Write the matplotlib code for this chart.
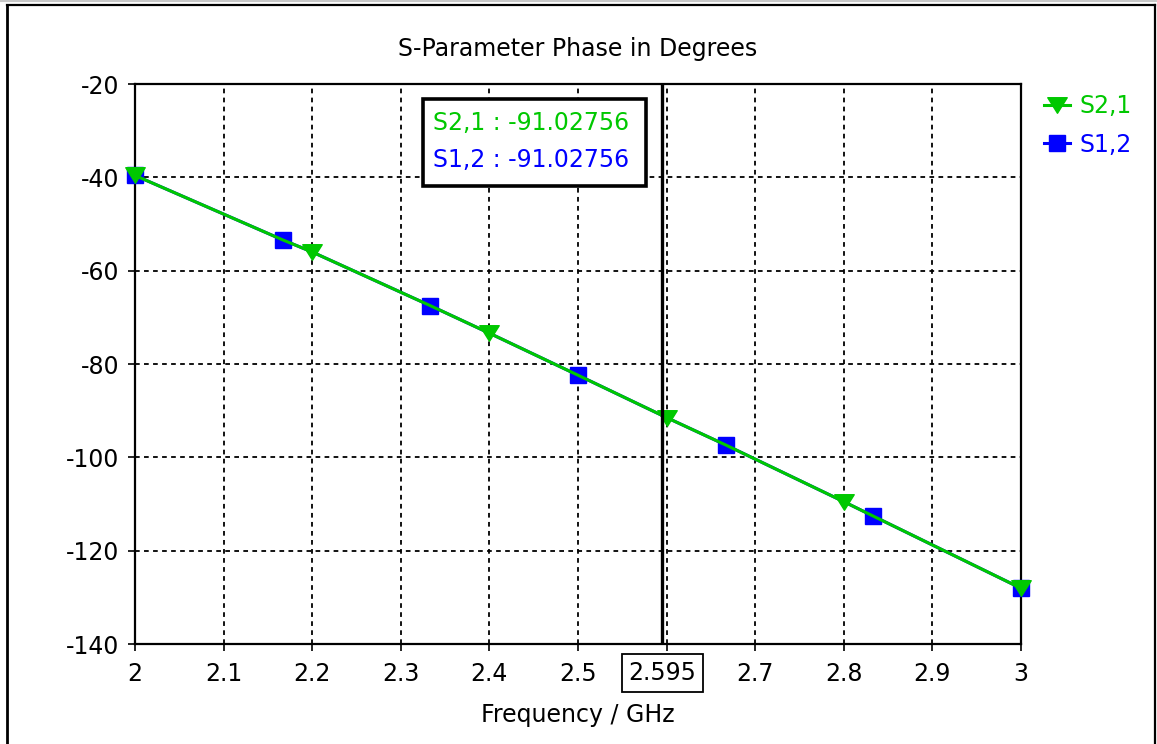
import matplotlib
matplotlib.use("Agg")
import matplotlib.pyplot as plt
from matplotlib.lines import Line2D
from matplotlib.patches import Rectangle
from matplotlib.path import Path
from matplotlib.transforms import blended_transform_factory

plt.rcParams['font.family'] = ['DejaVu Sans']
plt.rcParams['axes.unicode_minus'] = False

# ---- chart data -----------------------------------------------------------
title = "S-Parameter Phase in Degrees"
x_label = "Frequency / GHz"

s21_label = "S2,1"
freq_s21 = [2.0, 2.2, 2.4, 2.6, 2.8, 3.0]
phase_s21 = [-39.6, -56.0, -73.4, -91.48, -109.5, -128.05]

s12_label = "S1,2"
freq_s12 = [2.0, 2.1667, 2.3333, 2.5, 2.6667, 2.8333, 3.0]
phase_s12 = [-39.6, -53.4, -67.5, -82.4, -97.35, -112.6, -128.05]

cursor_freq = 2.595
cursor_phase = -91.02756

x_ticks = [2.0, 2.1, 2.2, 2.3, 2.4, 2.5, 2.6, 2.7, 2.8, 2.9, 3.0]
x_tick_labels = ["2", "2.1", "2.2", "2.3", "2.4", "2.5", "", "2.7", "2.8", "2.9", "3"]
y_ticks = [-140, -120, -100, -80, -60, -40, -20]
y_tick_labels = ["-140", "-120", "-100", "-80", "-60", "-40", "-20"]

GREEN = "#00c800"
BLUE = "#0000ff"
FS = 17

W, H = 1157, 744
fig = plt.figure(figsize=(W / 100, H / 100), dpi=100)
fig.patch.set_facecolor("white")
ax = fig.add_axes([135 / W, 1 - 644 / H, 886 / W, 560 / H])

# both traces describe the same transmission phase; the curve goes through all samples
curve = sorted(set(zip(freq_s21, phase_s21)) | set(zip(freq_s12, phase_s12))
               | {(cursor_freq, cursor_phase)})
curve_f = [p[0] for p in curve]
curve_p = [p[1] for p in curve]

# wide, flat downward triangle marker
tri = Path([(-1.0, 0.8), (1.0, 0.8), (0.0, -0.8), (-1.0, 0.8)],
           [Path.MOVETO, Path.LINETO, Path.LINETO, Path.CLOSEPOLY])

ax.plot(curve_f, curve_p, color=BLUE, lw=2.2, zorder=3, clip_on=False)
ax.plot(freq_s12, phase_s12, ls="none", marker="s", ms=11, color=BLUE,
        mec=BLUE, zorder=4, clip_on=False)
ax.plot(curve_f, curve_p, color=GREEN, lw=2.2, zorder=5, clip_on=False)
ax.plot(freq_s21, phase_s21, ls="none", marker=tri, ms=14, color=GREEN,
        mec=GREEN, zorder=6, clip_on=False)

# cursor line
ax.axvline(cursor_freq, color="black", lw=2.4, zorder=7)

ax.set_xlim(2.0, 3.0)
ax.set_ylim(-140, -20)
ax.set_xticks(x_ticks)
ax.set_xticklabels(x_tick_labels)
ax.set_yticks(y_ticks)
ax.set_yticklabels(y_tick_labels)
ax.tick_params(direction="out", length=5, width=1.2, labelsize=FS, pad=6,
               colors="black")
ax.tick_params(axis="x", pad=8)
ax.grid(True, color="black", lw=1.3, ls=(0, (2.6, 2.4)), zorder=1)
for s in ax.spines.values():
    s.set_linewidth(1.6)
    s.set_color("black")

ax.set_title(title, fontsize=FS, pad=20)
ax.set_xlabel(x_label, fontsize=FS, labelpad=12)

# boxed cursor frequency on the x axis
trans = blended_transform_factory(ax.transData, ax.transAxes)
ax.text(cursor_freq, -(673 - 644) / 560, f"{cursor_freq:g}", transform=trans,
        ha="center", va="center", fontsize=FS,
        bbox=dict(boxstyle="square,pad=0.28", fc="white", ec="black", lw=1.3))

# cursor readout box
fig.add_artist(Rectangle((423 / W, 1 - 186 / H), 223 / W, 87 / H,
                         transform=fig.transFigure, fc="white", ec="black",
                         lw=2.6, zorder=10))
fig.text(433 / W, 1 - 123 / H, f"{s21_label} : {cursor_phase:.5f}",
         color=GREEN, fontsize=FS, va="center", ha="left", zorder=11)
fig.text(433 / W, 1 - 160 / H, f"{s12_label} : {cursor_phase:.5f}",
         color=BLUE, fontsize=FS, va="center", ha="left", zorder=11)

# legend to the right of the plot
handles = [Line2D([], [], color=GREEN, lw=2.2, marker=tri, ms=14),
           Line2D([], [], color=BLUE, lw=2.2, marker="s", ms=11)]
ax.legend(handles, [s21_label, s12_label], loc="upper left",
          bbox_to_anchor=(1044 / W, 1 - 94 / H), bbox_transform=fig.transFigure,
          frameon=False, handlelength=1.1, handletextpad=0.42, labelspacing=0.62,
          labelcolor=[GREEN, BLUE], borderpad=0, borderaxespad=0, fontsize=FS)

# outer window frame
fig.add_artist(Line2D([0, 1], [1 - 1 / H, 1 - 1 / H], transform=fig.transFigure,
                      color="#c8c8c8", lw=1.5))
fig.add_artist(Line2D([7 / W, 1155 / W], [1 - 5 / H, 1 - 5 / H],
                      transform=fig.transFigure, color="black", lw=1.6))
fig.add_artist(Line2D([7 / W, 7 / W], [0, 1 - 5 / H], transform=fig.transFigure,
                      color="black", lw=2.0))
fig.add_artist(Line2D([1155 / W, 1155 / W], [0, 1 - 5 / H],
                      transform=fig.transFigure, color="black", lw=1.6))

fig.savefig("out.png", dpi=100, facecolor="white")
